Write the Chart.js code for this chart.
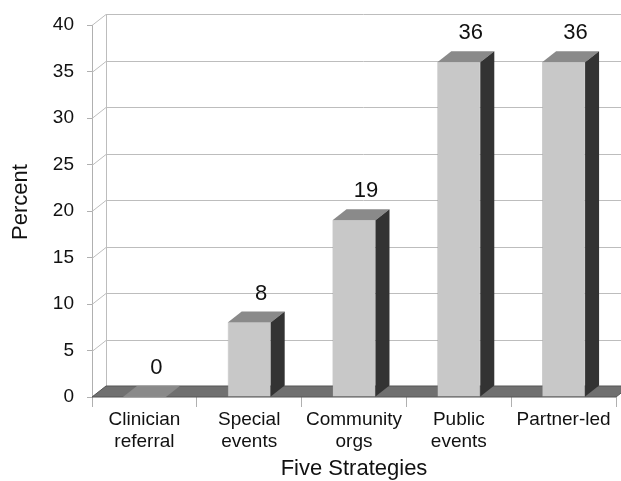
<!DOCTYPE html>
<html lang="en">
<head>
    <meta charset="UTF-8">
    <title>Five Strategies</title>
    <script src="https://cdn.jsdelivr.net/npm/chart.js"></script>
    <style>
        html, body { margin: 0; padding: 0; background: #fff; }
        .chart-box { position: relative; width: 621px; height: 481px; }
    </style>
</head>
<body>

<div class="chart-box">
    <canvas id="strategies"></canvas>
</div>

<script>
    // Data
    var categories = [['Clinician', 'referral'], ['Special', 'events'], ['Community', 'orgs'], ['Public', 'events'], 'Partner-led'];
    var percents = [0, 8, 19, 36, 36];
    var yTicks = [0, 5, 10, 15, 20, 25, 30, 35, 40];
    var yTitle = 'Percent';

    // depth of the fake 3D effect
    var DX = 14, DY = -11;
    var FONT = 'Arial, "Liberation Sans", sans-serif';

    var threeD = {
        id: 'threeD',
        beforeDatasetsDraw: function(chart) {
            var c = chart.ctx, area = chart.chartArea;
            var y = chart.scales.y;
            var base = y.getPixelForValue(0);
            c.save();
            // back wall gridlines + side wall diagonals
            c.strokeStyle = '#bdbdbd';
            c.lineWidth = 1;
            yTicks.forEach(function(v) {
                var py = Math.round(y.getPixelForValue(v)) + 0.5;
                c.beginPath();
                c.moveTo(area.left, py);
                c.lineTo(area.left + DX, py + DY);
                if (v > 0) c.lineTo(chart.width, py + DY);
                c.stroke();
            });
            c.beginPath();
            c.moveTo(area.left + DX + 0.5, y.getPixelForValue(40) + DY);
            c.lineTo(area.left + DX + 0.5, base + DY);
            c.stroke();
            // floor
            c.fillStyle = '#707070';
            c.strokeStyle = '#555';
            c.beginPath();
            c.moveTo(area.left, base);
            c.lineTo(area.right, base);
            c.lineTo(area.right + DX, base + DY);
            c.lineTo(area.left + DX, base + DY);
            c.closePath();
            c.fill();
            c.stroke();
            c.restore();
        },
        afterDatasetsDraw: function(chart) {
            var c = chart.ctx;
            var bars = chart.getDatasetMeta(0).data;
            c.save();
            bars.forEach(function(bar, i) {
                var l = bar.x - bar.width / 2, r = bar.x + bar.width / 2;
                var t = bar.y, b = bar.base;
                // top face
                c.fillStyle = '#8a8a8a';
                c.beginPath();
                c.moveTo(l, t);
                c.lineTo(r, t);
                c.lineTo(r + DX, t + DY);
                c.lineTo(l + DX, t + DY);
                c.closePath();
                c.fill();
                // side face
                c.fillStyle = '#333333';
                c.beginPath();
                c.moveTo(r, t);
                c.lineTo(r + DX, t + DY);
                c.lineTo(r + DX, b + DY);
                c.lineTo(r, b);
                c.closePath();
                c.fill();
                // value label
                c.fillStyle = '#111';
                c.font = '22px ' + FONT;
                c.textAlign = 'center';
                c.textBaseline = 'middle';
                c.fillText(String(percents[i]), bar.x + 12, t + DY - 18);
            });
            c.restore();
        },
        afterDraw: function(chart) {
            // y axis title, sits a little above the axis middle as in the original
            var c = chart.ctx;
            c.save();
            c.translate(21, 202);
            c.rotate(-Math.PI / 2);
            c.fillStyle = '#111';
            c.font = '22px ' + FONT;
            c.textAlign = 'center';
            c.textBaseline = 'middle';
            c.fillText(yTitle, 0, 0);
            c.restore();
        }
    };

    var ctx = document.getElementById('strategies').getContext('2d');
    var chart = new Chart(ctx, {
        type: 'bar',
        data: {
            labels: categories,
            datasets: [{
                label: yTitle,
                data: percents,
                backgroundColor: '#c8c8c8',
                borderColor: '#9a9a9a',
                borderWidth: 0.5,
                categoryPercentage: 1,
                barPercentage: 0.41
            }]
        },
        options: {
            responsive: true,
            maintainAspectRatio: false,
            animation: false,
            layout: { padding: { top: 25, right: 5, left: 0, bottom: 0 } },
            plugins: {
                legend: { display: false },
                tooltip: { enabled: false }
            },
            scales: {
                x: {
                    grid: { display: true, drawOnChartArea: false, tickLength: 10, color: '#b0b0b0', offset: true },
                    border: { display: false },
                    ticks: {
                        padding: 2,
                        color: '#111',
                        maxRotation: 0,
                        font: { family: FONT, size: 19, lineHeight: 1.15 }
                    },
                    title: {
                        display: true,
                        text: 'Five Strategies',
                        color: '#111',
                        padding: { top: 0, bottom: 0 },
                        font: { family: FONT, size: 22, lineHeight: 1.1 }
                    },
                    afterFit: function(scale) { scale.height = 84; }
                },
                y: {
                    min: 0,
                    max: 40,
                    ticks: {
                        stepSize: 5,
                        padding: 13,
                        color: '#111',
                        font: { family: FONT, size: 19 }
                    },
                    grid: { drawOnChartArea: false, tickLength: 5, color: '#b0b0b0' },
                    border: { display: true, color: '#b0b0b0' },
                    afterFit: function(scale) { scale.width = 92; }
                }
            }
        },
        plugins: [threeD]
    });
</script>

</body>
</html>
